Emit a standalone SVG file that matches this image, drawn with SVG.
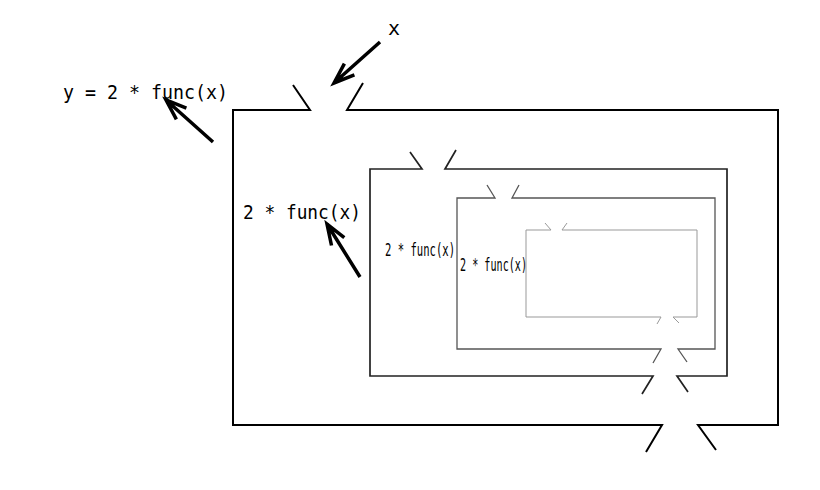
<svg xmlns="http://www.w3.org/2000/svg" width="820" height="490" viewBox="0 0 820 490">
<style>
.t{font-family:"DejaVu Sans Mono","Liberation Mono",monospace;fill:#000}
.box{fill:none;stroke-linejoin:miter}
.arr{fill:none;stroke:#000;stroke-width:3.5;stroke-linejoin:miter}
</style>
<rect width="820" height="490" fill="#fff"/>
<g id="box1"><path class="box" stroke="#000" stroke-width="2" d="M293,85 L310,110 L233,110 L233,425 L662,425 L646,452 M716,450 L698,425 L778,425 L778,110 L347,110 L363,83"/></g>
<g id="box2"><path class="box" stroke="#222" stroke-width="1.7" d="M410,152 L422,169 L370,169 L370,376 L653,376 L642,394 M688,392 L677,376 L727,376 L727,169 L445,169 L456,150"/></g>
<g id="box3"><path class="box" stroke="#555" stroke-width="1.3" d="M487,185 L495,198 L457,198 L457,349 L661,349 L653,363 M687,362 L678,349 L715,349 L715,198 L512,198 L519,185"/></g>
<g id="box4"><path class="box" stroke="#999" stroke-width="1" d="M545,223 L551,230 L526,230 L526,317 L661,317 L657,324 M679,323 L673,317 L697,317 L697,230 L562,230 L567,223"/></g>
<g id="label-x"><text class="t" x="388" y="35" font-size="20">x</text></g>
<g id="label-y"><text class="t" x="63" y="99" font-size="20" textLength="165" lengthAdjust="spacingAndGlyphs">y = 2 * func(x)</text></g>
<g id="label-2"><text class="t" x="243" y="219" font-size="20" textLength="118" lengthAdjust="spacingAndGlyphs">2 * func(x)</text></g>
<g id="label-3"><text class="t" x="385" y="256" font-size="17" textLength="70" lengthAdjust="spacingAndGlyphs">2 * func(x)</text></g>
<g id="label-4"><text class="t" x="460" y="271" font-size="17" textLength="67" lengthAdjust="spacingAndGlyphs">2 * func(x)</text></g>
<g id="connectors">
<path class="arr" d="M380,42 L334,83 M354.4,74.9 L334,83 L344.4,63.6"/>
<path class="arr" d="M213,142 L166,100 M186.4,108.2 L166,100 L176.4,119.4"/>
<path class="arr" d="M360,277 L327,224 M344.3,237.6 L327,224 L331.5,245.5"/>
</g>
</svg>
